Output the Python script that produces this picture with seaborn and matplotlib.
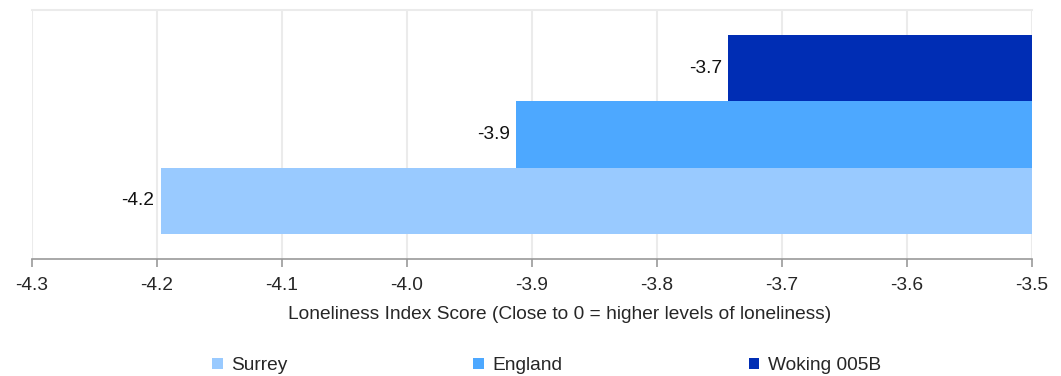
import pandas as pd
import seaborn as sns
import matplotlib.pyplot as plt
from matplotlib.patches import Patch

areas = ["Woking 005B", "England", "Surrey"]
scores = [-3.743, -3.913, -4.197]
labels = ["-3.7", "-3.9", "-4.2"]
legend_order = ["Surrey", "England", "Woking 005B"]
colors = {"Surrey": "#99CAFF", "England": "#4DA8FF", "Woking 005B": "#002DB4"}
xticks = [-4.3, -4.2, -4.1, -4.0, -3.9, -3.8, -3.7, -3.6, -3.5]

df = pd.DataFrame({"group": ["Loneliness"] * 3, "area": areas, "score": scores})

sns.set_style("white")
plt.rcParams["font.family"] = ["Liberation Sans", "DejaVu Sans"]
fs = 13.8

fig = plt.figure(figsize=(10.61, 3.76), dpi=100)
ax = fig.add_axes([32 / 1061, 1 - 259 / 376, 1000 / 1061, 249 / 376])

sns.barplot(data=df, x="score", y="group", hue="area", hue_order=areas,
            palette=colors, orient="h", width=0.8, saturation=1,
            linewidth=0, legend=False, ax=ax)

for bar, lab in zip(ax.patches, labels):
    y = bar.get_y() + bar.get_height() / 2
    ax.text(bar.get_width() - 0.005, y, lab, ha="right", va="center",
            fontsize=fs, color="#111111")

ax.set_xlim(-4.3, -3.5)
ax.set_xticks(xticks)
ax.set_xticklabels([f"{t:.1f}" for t in xticks], fontsize=fs)
ax.set_yticks([])
ax.set_ylabel("")
ax.set_xlabel("Loneliness Index Score (Close to 0 = higher levels of loneliness)",
              fontsize=fs, labelpad=8.5)
ax.xaxis.label.set_x(0.5275)
ax.grid(axis="x", color="#ebebeb", linewidth=1.5)
ax.set_axisbelow(True)
for s in ["left", "right"]:
    ax.spines[s].set_visible(False)
ax.spines["top"].set_color("#ebebeb")
ax.spines["top"].set_linewidth(1.5)
ax.spines["bottom"].set_color("#999999")
ax.spines["bottom"].set_linewidth(1.2)
ax.tick_params(axis="x", bottom=True, direction="out", length=6, width=1.2,
               color="#999999", pad=7)

handles = [Patch(facecolor=colors[a], edgecolor="none", label=a) for a in legend_order]
fig.legend(handles=handles, loc="center", bbox_to_anchor=(0.515, 0.027), ncol=3,
           frameon=False, fontsize=fs, handlelength=0.55, handleheight=0.55,
           handletextpad=0.45, columnspacing=9.7)

fig.savefig("out.png", dpi=100)
